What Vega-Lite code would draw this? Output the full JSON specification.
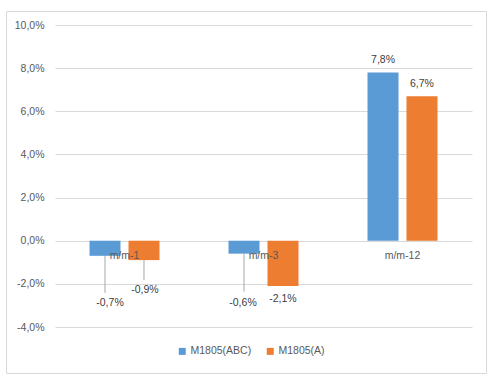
{
  "$schema": "https://vega.github.io/schema/vega-lite/v6.json",
  "autosize": "none",
  "width": 480,
  "height": 362,
  "padding": {"left": 6, "top": 11, "right": 7, "bottom": 8},
  "background": "white",
  "config": {
    "locale": {"number": {"decimal": ",", "thousands": ".", "grouping": [3], "currency": ["", " €"], "minus": "-", "percent": "%"}},
    "view": {"stroke": "#D9D9D9", "strokeWidth": 1},
    "font": "Liberation Sans",
    "text": {"font": "Liberation Sans", "fontSize": 10.5, "color": "#404040"}
  },
  "data": {
    "values": [
      {"cat": "m/m-1", "series": "M1805(ABC)", "value": -0.007},
      {"cat": "m/m-1", "series": "M1805(A)", "value": -0.009},
      {"cat": "m/m-3", "series": "M1805(ABC)", "value": -0.006},
      {"cat": "m/m-3", "series": "M1805(A)", "value": -0.021},
      {"cat": "m/m-12", "series": "M1805(ABC)", "value": 0.078},
      {"cat": "m/m-12", "series": "M1805(A)", "value": 0.067}
    ]
  },
  "encoding": {
    "x": {
      "field": "cat", "type": "nominal",
      "scale": {"domain": ["m/m-1", "m/m-3", "m/m-12"], "range": [49, 466], "paddingInner": 0, "paddingOuter": 0},
      "axis": {"title": null, "orient": "bottom", "offset": -132, "zindex": 1, "domain": false, "ticks": false, "grid": false, "labelAngle": 0, "labelPadding": 9, "labelFont": "Liberation Sans", "labelFontSize": 10.5, "labelColor": "#595959"}
    },
    "xOffset": {
      "field": "series", "type": "nominal",
      "scale": {"domain": ["M1805(ABC)", "M1805(A)"], "paddingInner": 0.205, "paddingOuter": 0.885}
    },
    "y": {
      "field": "value", "type": "quantitative",
      "scale": {"domain": [-0.04, 0.1], "range": [316, 14], "nice": false, "zero": false},
      "axis": {"title": null, "offset": -40, "labelPadding": 2, "domain": false, "ticks": false, "grid": true, "gridColor": "#D9D9D9", "gridWidth": 1, "values": [-0.04, -0.02, 0, 0.02, 0.04, 0.06, 0.08, 0.1], "format": ".1%", "labelFont": "Liberation Sans", "labelFontSize": 10.5, "labelColor": "#595959"}
    }
  },
  "layer": [
    {
      "mark": {"type": "bar"},
      "encoding": {
        "color": {
          "field": "series", "type": "nominal",
          "scale": {"domain": ["M1805(ABC)", "M1805(A)"], "range": ["#5B9BD5", "#ED7D31"]},
          "legend": {"title": null, "orient": "none", "legendX": 171, "legendY": 335, "direction": "horizontal", "symbolType": "square", "symbolSize": 49, "symbolStrokeWidth": 0, "labelOffset": 3, "columnPadding": 13, "labelFont": "Liberation Sans", "labelFontSize": 10.5, "labelColor": "#595959"}
        }
      }
    },
    {
      "transform": [{"filter": "datum.value > 0"}],
      "mark": {"type": "text", "baseline": "alphabetic", "dy": -9},
      "encoding": {"text": {"field": "value", "type": "quantitative", "format": ".1%"}}
    },
    {
      "transform": [{"filter": "datum.cat == 'm/m-1' && datum.series == 'M1805(ABC)'"}],
      "mark": {"type": "rule", "color": "#A6A6A6", "strokeWidth": 1, "y2Offset": 37},
      "encoding": {"y2": {"field": "value"}}
    },
    {
      "transform": [{"filter": "datum.cat == 'm/m-1' && datum.series == 'M1805(A)'"}],
      "mark": {"type": "rule", "color": "#A6A6A6", "strokeWidth": 1, "y2Offset": 20},
      "encoding": {"y2": {"field": "value"}}
    },
    {
      "transform": [{"filter": "datum.cat == 'm/m-3' && datum.series == 'M1805(ABC)'"}],
      "mark": {"type": "rule", "color": "#A6A6A6", "strokeWidth": 1, "y2Offset": 38},
      "encoding": {"y2": {"field": "value"}}
    },
    {
      "transform": [{"filter": "datum.cat == 'm/m-1' && datum.series == 'M1805(ABC)'"}],
      "mark": {"type": "text", "baseline": "middle", "dx": 5, "dy": 47},
      "encoding": {"text": {"field": "value", "type": "quantitative", "format": ".1%"}}
    },
    {
      "transform": [{"filter": "datum.cat == 'm/m-1' && datum.series == 'M1805(A)'"}],
      "mark": {"type": "text", "baseline": "middle", "dx": 1, "dy": 30},
      "encoding": {"text": {"field": "value", "type": "quantitative", "format": ".1%"}}
    },
    {
      "transform": [{"filter": "datum.cat == 'm/m-3' && datum.series == 'M1805(ABC)'"}],
      "mark": {"type": "text", "baseline": "middle", "dx": -1, "dy": 49},
      "encoding": {"text": {"field": "value", "type": "quantitative", "format": ".1%"}}
    },
    {
      "transform": [{"filter": "datum.cat == 'm/m-3' && datum.series == 'M1805(A)'"}],
      "mark": {"type": "text", "baseline": "middle", "dx": 0, "dy": 13},
      "encoding": {"text": {"field": "value", "type": "quantitative", "format": ".1%"}}
    }
  ]
}
